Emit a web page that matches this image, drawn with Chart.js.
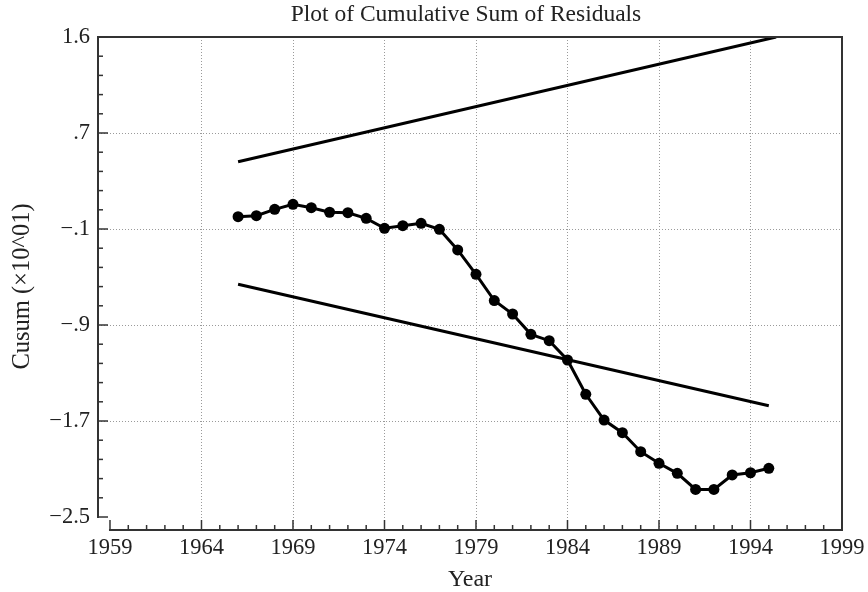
<!DOCTYPE html>
<html>
<head>
<meta charset="UTF-8">
<title>Plot of Cumulative Sum of Residuals</title>
<script src="https://cdn.jsdelivr.net/npm/chart.js"></script>
<style>
  body { margin: 0; background: #fff; }
  canvas { display: block; }
</style>
</head>
<body>
<canvas id="cusumChart" width="868" height="592"></canvas>
<script>
// values
var years = [1966, 1967, 1968, 1969, 1970, 1971, 1972, 1973, 1974, 1975,
             1976, 1977, 1978, 1979, 1980, 1981, 1982, 1983, 1984, 1985,
             1986, 1987, 1988, 1989, 1990, 1991, 1992, 1993, 1994, 1995];
var cusum = [0.065, 0.074, 0.128, 0.171, 0.142, 0.103, 0.099, 0.051, -0.034, -0.012,
             0.009, -0.043, -0.219, -0.427, -0.651, -0.766, -0.940, -0.994, -1.159, -1.452,
             -1.672, -1.780, -1.942, -2.041, -2.127, -2.264, -2.264, -2.141, -2.122, -2.084];
var upperYears = [1966, 1995.4];
var upperBound = [0.535, 1.6];
var lowerYears = [1966, 1995];
var lowerBound = [-0.512, -1.549];

var xTickValues = [1959, 1964, 1969, 1974, 1979, 1984, 1989, 1994, 1999];
var xTickLabels = ['1959', '1964', '1969', '1974', '1979', '1984', '1989', '1994', '1999'];
var yTickValues = [1.6, 0.78, -0.04, -0.86, -1.68, -2.5];
var yTickLabels = ['1.6', '.7', '\u2212.1', '\u2212.9', '\u22121.7', '\u22122.5'];

var titleText = 'Plot of Cumulative Sum of Residuals';
var xTitle = 'Year';
var yTitle = 'Cusum (\u00d710^01)';

function pairs(xs, ys){
    var out = [];
    for(var i = 0; i < xs.length; i++){
        out.push({x: xs[i], y: ys[i]});
    }
    return out;
}

var FONT = '"Liberation Serif", "Times New Roman", serif';
var AXIS = '#333';

// draws the detached axes, ticks, dotted grid and the texts
var framePlugin = {
    id: 'frame',
    beforeDatasetsDraw: function(chart){
        var ctx = chart.ctx, a = chart.chartArea;
        var xs = chart.scales.x, ys = chart.scales.y;
        ctx.save();
        ctx.strokeStyle = '#9a9a9a';
        ctx.lineWidth = 1;
        ctx.setLineDash([1, 2]);
        for(var i = 1; i < xTickValues.length - 1; i++){
            var px = Math.round(xs.getPixelForValue(xTickValues[i])) + 0.5;
            ctx.beginPath(); ctx.moveTo(px, a.top); ctx.lineTo(px, a.bottom); ctx.stroke();
        }
        for(var j = 1; j < yTickValues.length - 1; j++){
            var py = Math.round(ys.getPixelForValue(yTickValues[j])) + 0.5;
            ctx.beginPath(); ctx.moveTo(a.left, py); ctx.lineTo(a.right, py); ctx.stroke();
        }
        ctx.restore();
    },
    afterDatasetsDraw: function(chart){
        var ctx = chart.ctx, a = chart.chartArea;
        var xs = chart.scales.x, ys = chart.scales.y;
        var x0 = xs.getPixelForValue(xTickValues[0]);
        var yTop = ys.getPixelForValue(yTickValues[0]);
        var yBot = ys.getPixelForValue(yTickValues[yTickValues.length - 1]);
        ctx.save();
        ctx.strokeStyle = AXIS;
        ctx.lineWidth = 2;
        ctx.lineCap = 'square';
        // y axis, top and right border
        ctx.beginPath();
        ctx.moveTo(a.left, yBot);
        ctx.lineTo(a.left, a.top);
        ctx.lineTo(a.right, a.top);
        ctx.lineTo(a.right, a.bottom);
        ctx.stroke();
        // x axis
        ctx.beginPath();
        ctx.moveTo(x0, a.bottom);
        ctx.lineTo(a.right, a.bottom);
        ctx.stroke();

        ctx.lineWidth = 1.5;
        ctx.lineCap = 'butt';
        // x ticks, every year
        for(var yr = xTickValues[0]; yr <= xTickValues[xTickValues.length - 1]; yr++){
            var px = xs.getPixelForValue(yr);
            var len = ((yr - xTickValues[0]) % 5 === 0) ? 10 : 5;
            ctx.beginPath(); ctx.moveTo(px, a.bottom); ctx.lineTo(px, a.bottom - len); ctx.stroke();
        }
        // y ticks, 4 minor between majors
        for(var k = 0; k < yTickValues.length; k++){
            var py = ys.getPixelForValue(yTickValues[k]);
            ctx.beginPath(); ctx.moveTo(a.left, py); ctx.lineTo(a.left + 10, py); ctx.stroke();
            if(k < yTickValues.length - 1){
                var step = (yTickValues[k + 1] - yTickValues[k]) / 5;
                for(var m = 1; m < 5; m++){
                    var pm = ys.getPixelForValue(yTickValues[k] + step * m);
                    ctx.beginPath(); ctx.moveTo(a.left, pm); ctx.lineTo(a.left + 5, pm); ctx.stroke();
                }
            }
        }

        ctx.fillStyle = '#222';
        ctx.font = '22.5px ' + FONT;
        ctx.textAlign = 'center';
        ctx.textBaseline = 'top';
        for(var i = 0; i < xTickValues.length; i++){
            ctx.fillText(xTickLabels[i], xs.getPixelForValue(xTickValues[i]), a.bottom + 7);
        }
        ctx.textAlign = 'right';
        ctx.textBaseline = 'middle';
        for(var j = 0; j < yTickValues.length; j++){
            ctx.fillText(yTickLabels[j], a.left - 8, ys.getPixelForValue(yTickValues[j]));
        }
        // titles
        ctx.textAlign = 'center';
        ctx.textBaseline = 'alphabetic';
        ctx.font = '23.5px ' + FONT;
        ctx.fillText(titleText, (a.left + a.right) / 2 - 4, 21);
        ctx.font = '24px ' + FONT;
        ctx.fillText(xTitle, (x0 + a.right) / 2 - 6, 586);
        ctx.font = '24.5px ' + FONT;
        ctx.translate(29, (yTop + a.bottom) / 2 + 3);
        ctx.rotate(-Math.PI / 2);
        ctx.fillText(yTitle, 0, 0);
        ctx.restore();
    }
};

var ctx = document.getElementById('cusumChart').getContext('2d');
var chart = new Chart(ctx, {
    type: 'line',
    data: {
        datasets: [{
            label: 'Cusum',
            data: pairs(years, cusum),
            borderColor: '#000',
            backgroundColor: '#000',
            borderWidth: 3,
            pointRadius: 5.5,
            pointHoverRadius: 5.5,
            pointBackgroundColor: '#000',
            pointBorderWidth: 0
        }, {
            label: 'Upper bound',
            data: pairs(upperYears, upperBound),
            borderColor: '#000',
            borderWidth: 3,
            pointRadius: 0
        }, {
            label: 'Lower bound',
            data: pairs(lowerYears, lowerBound),
            borderColor: '#000',
            borderWidth: 3,
            pointRadius: 0
        }]
    },
    options: {
        responsive: false,
        devicePixelRatio: 1,
        animation: false,
        layout: {
            padding: {left: 98, right: 26, top: 37, bottom: 62}
        },
        scales: {
            x: {
                type: 'linear',
                min: 1958.345,
                max: 1999,
                display: false
            },
            y: {
                type: 'linear',
                min: -2.611,
                max: 1.6,
                display: false
            }
        },
        plugins: {
            legend: {display: false},
            tooltip: {enabled: false}
        }
    },
    plugins: [framePlugin]
});
</script>
</body>
</html>
